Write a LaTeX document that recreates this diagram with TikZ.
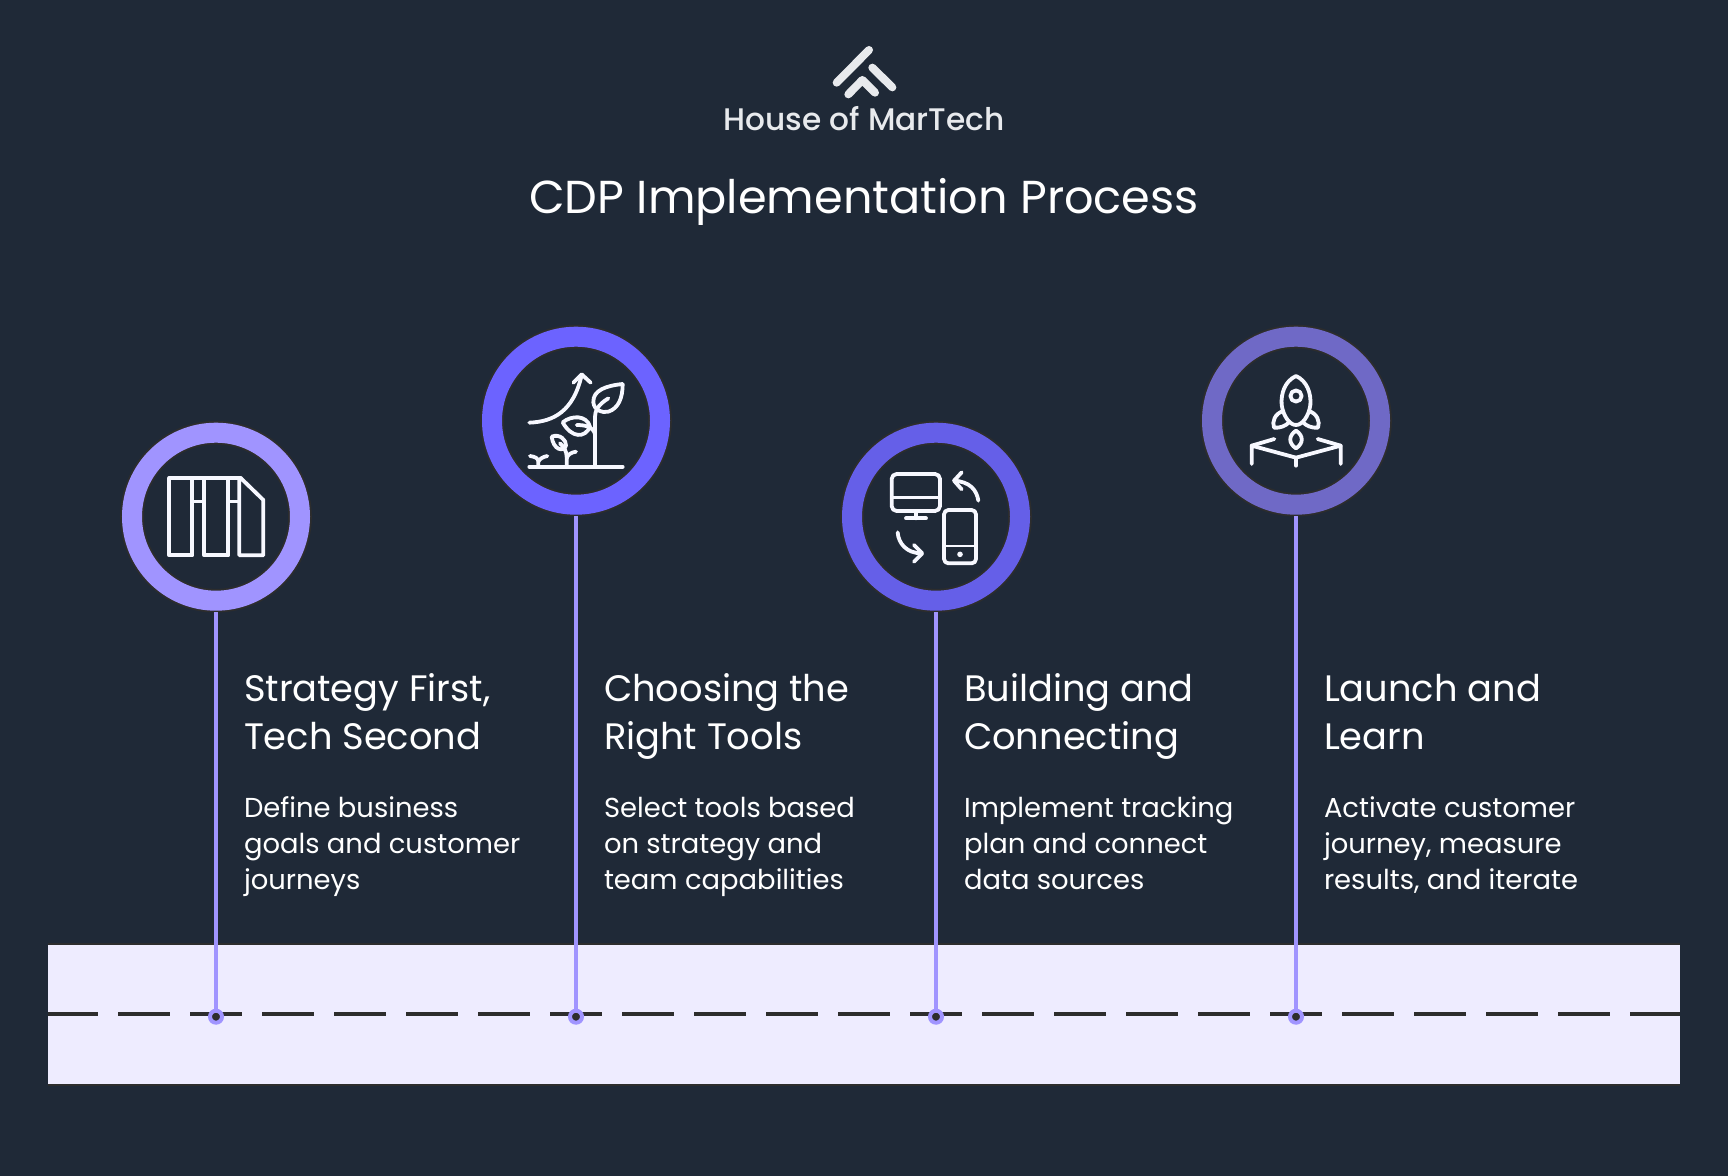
\documentclass[tikz,border=0pt]{standalone}
\usepackage{fontspec}
\setmainfont{Poppins}
\newfontfamily\mediumfont{Poppins Medium}
\definecolor{bgdark}{HTML}{1F2937}
\definecolor{edgedark}{HTML}{2D2D2D}
\definecolor{bandlight}{HTML}{EEECFF}
\definecolor{stemlilac}{HTML}{A094FF}
\definecolor{ringA}{HTML}{A094FF}
\definecolor{ringB}{HTML}{6C63FF}
\definecolor{ringC}{HTML}{655FE8}
\definecolor{ringD}{HTML}{6F69C6}
\definecolor{iconwhite}{HTML}{F7F8FF}
\definecolor{logogray}{HTML}{E8EAED}
\tikzset{
    zoomed/.style={x=0.16667pt,y=-0.16667pt},
    icon/.style={draw=iconwhite,line width=1.9pt,line cap=round,line join=round},
    logobar/.style={draw=logogray,line width=4pt,line cap=round},
    ring/.style={circle,minimum size=84pt,inner sep=0pt,outer sep=5.8pt,fill=bgdark,draw=edgedark,double distance=10pt,line width=0.9pt},
    stem/.style={draw=stemlilac,line width=2.2pt},
    dot/.style={circle,minimum size=6pt,inner sep=0pt,fill=edgedark,draw=stemlilac,line width=2pt},
    headtext/.style={anchor=base west,align=left,inner sep=0pt,text=white,font=\fontsize{18.4}{24}\selectfont},
    bodytext/.style={anchor=base west,align=left,inner sep=0pt,text=white,font=\fontsize{13.7}{18}\selectfont},
}
\begin{document}
\begin{tikzpicture}[x=0.5pt,y=-0.5pt]
        \useasboundingbox[fill=bgdark] (0,0) rectangle (1728,1176);
        \coordinate (BL) at (48,1085);
        \coordinate (TR) at (1680,944);
        \fill[bandlight] (BL) rectangle (TR);
        \draw[edgedark,line width=0.7pt] (BL) -- (BL -| TR);
        \draw[edgedark,line width=0.7pt] (TR) -- (TR -| BL);
        % timeline
        \coordinate (lineL) at (48,1014.2);
        \coordinate (lineR) at (1680,1014.2);
        \draw[edgedark,line width=2pt,dash pattern=on 25.75pt off 10.25pt,dash phase=1pt] (lineL) -- (lineR);
        % rings, dots and stems
        \foreach \x/\y/\c/\n in {216/516.7/ringA/A,576/420.7/ringB/B,936/516.7/ringC/C,1296/420.7/ringD/D} {
            \node[ring,double=\c] (circle\n) at (\x,\y) {};
            \node[dot] (dot\n) at (\x,1016.7) {};
            \draw[stem] (circle\n.south) -- (dot\n.north);
        }
        % titles
        \node[text=logogray,font=\mediumfont\fontsize{15.6}{18}\selectfont,anchor=base] (logotext) at (864,131) {House of MarTech};
        \node[text=white,font=\fontsize{23.1}{28}\selectfont,anchor=base] (title) at (864,214) {CDP Implementation Process};
        % step texts
        \foreach \x/\h/\d/\n in {243.6/{Strategy First,\\Tech Second}/{Define business\\goals and customer\\journeys}/A,
                                 603.6/{Choosing the\\Right Tools}/{Select tools based\\on strategy and\\team capabilities}/B,
                                 963.6/{Building and\\Connecting}/{Implement tracking\\plan and connect\\data sources}/C,
                                 1323.6/{Launch and\\Learn}/{Activate customer\\journey, measure\\results, and iterate}/D} {
            \node[headtext] (head\n) at (\x,749.5) {\h};
            \node[bodytext] (body\n) at (\x,889) {\d};
        }
        % logo
        \begin{scope}[shift={(680,30)},zoomed]
            \draw[logobar] (470,158) -- (567,60);
            \draw[logobar] (577,113) -- (637,172);
            \draw[logobar,line join=round] (505,193) -- (547,150) -- (585,188);
        \end{scope}
        % icon A
        \begin{scope}[shift={(110,410)},zoomed]
            \draw[icon] (178,204) rectangle (247,436);
            \draw[icon] (283,436) -- (283,204) -- (355,204) -- (355,436) -- cycle;
            \draw[icon] (388,204) -- (388,436) -- (460,436) -- (460,270) -- (392,204);
            \draw[icon] (247,204) -- (283,204);
            \draw[icon] (355,204) -- (392,204);
            \draw[icon,line width=1.4pt] (247,275) -- (283,275);
            \draw[icon,line width=1.4pt] (355,275) -- (388,275);
        \end{scope}
        % icon B
        \begin{scope}[shift={(470,315)},zoomed]
            \draw[icon] (178,455) -- (458,455);
            \draw[icon] (375,455) -- (375,305) .. controls (375,290) and (382,270) .. (415,250);
            \draw[icon] (458,207) .. controls (410,212) and (368,225) .. (370,262)
                .. controls (372,285) and (395,295) .. (415,290)
                .. controls (445,280) and (458,250) .. (458,207);
            \draw[icon] (178,323) .. controls (250,320) and (310,290) .. (335,180);
            \draw[icon] (310,203) -- (335,178) -- (362,203);
            \draw[icon] (278,322) .. controls (305,300) and (350,300) .. (360,335)
                .. controls (345,370) and (305,370) .. (278,322);
            \draw[icon] (320,330) .. controls (345,330) and (370,335) .. (375,358);
            \draw[icon] (245,365) .. controls (268,355) and (290,375) .. (288,392)
                .. controls (280,412) and (250,405) .. (245,365);
            \draw[icon] (290,455) -- (290,425) .. controls (290,410) and (282,395) .. (270,385);
            \draw[icon] (290,430) .. controls (293,418) and (305,412) .. (318,410);
            \draw[icon] (205,455) -- (205,440) .. controls (205,430) and (195,425) .. (180,423);
            \draw[icon] (205,440) .. controls (208,432) and (220,425) .. (232,423);
        \end{scope}
        % icon C
        \begin{scope}[shift={(830,410)},zoomed]
            \draw[icon,rounded corners=2.5pt] (185,192) rectangle (330,303);
            \draw[icon,line width=1.4pt] (185,263) -- (330,263);
            \draw[icon] (258,303) -- (258,325);
            \draw[icon] (228,325) -- (288,325);
            \draw[icon,rounded corners=2.2pt] (342,300) rectangle (438,460);
            \draw[icon,line width=1.4pt] (342,408) -- (438,408);
            \fill[iconwhite] (390,433) circle (1.4pt);
            \draw[icon] (445,272) .. controls (440,240) and (420,215) .. (372,212);
            \draw[icon] (395,187) -- (372,212) -- (395,238);
            \draw[icon] (203,367) .. controls (205,400) and (230,430) .. (275,430);
            \draw[icon] (252,405) -- (277,430) -- (252,455);
        \end{scope}
        % icon D
        \begin{scope}[shift={(1190,315)},zoomed]
            \draw[icon] (318,183) .. controls (285,198) and (272,235) .. (275,270)
                .. controls (280,305) and (300,330) .. (318,330)
                .. controls (336,330) and (356,305) .. (361,270)
                .. controls (364,235) and (351,198) .. (318,183) -- cycle;
            \draw[icon] (318,243) circle (2.8pt);
            \draw[icon] (280,288) .. controls (255,295) and (245,320) .. (252,338)
                .. controls (270,340) and (288,332) .. (297,322);
            \draw[icon] (356,288) .. controls (381,295) and (391,320) .. (384,338)
                .. controls (366,340) and (348,332) .. (339,322);
            \draw[icon] (318,347) .. controls (295,362) and (295,385) .. (318,400)
                .. controls (341,385) and (341,362) .. (318,347) -- cycle;
            \draw[icon] (185,447) -- (185,392) -- (318,428) -- (452,392) -- (452,447);
            \draw[icon] (185,392) -- (253,372);
            \draw[icon] (452,392) -- (383,372);
            \draw[icon] (318,428) -- (318,452);
        \end{scope}
    \end{tikzpicture}
\end{document}
